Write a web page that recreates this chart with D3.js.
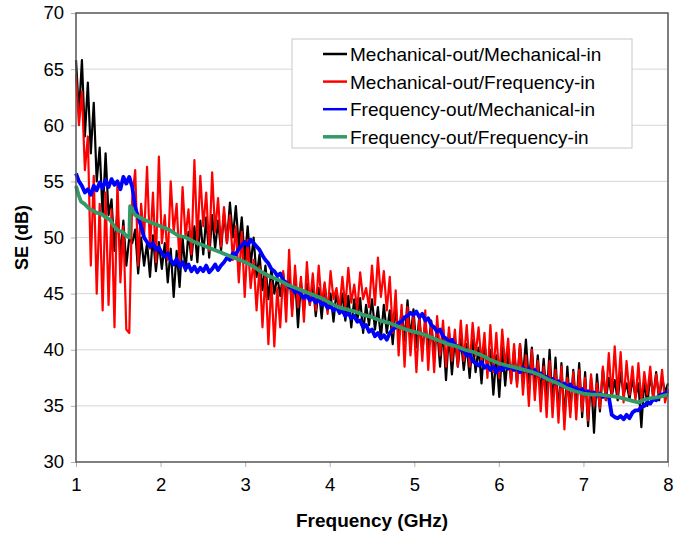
<!DOCTYPE html>
<html>
<head>
<meta charset="utf-8">
<script src="https://cdn.jsdelivr.net/npm/d3@7"></script>
<style>
  body { margin: 0; background: #fff; }
  svg { font-family: "Liberation Sans", Arial, sans-serif; }
</style>
</head>
<body>
<svg id="chart" width="688" height="533"></svg>
<script>
// frequency grid (GHz), one sample every 0.035 GHz from 1 to 8
const freqStart = 1, freqStep = 0.035;

const seriesNames = [
  "Mechanical-out/Mechanical-in",
  "Mechanical-out/Frequency-in",
  "Frequency-out/Mechanical-in",
  "Frequency-out/Frequency-in"
];
const seriesColors = ["#000000", "#ff0000", "#0000ff", "#339966"];

const xTicks = [1, 2, 3, 4, 5, 6, 7, 8];
const yTicks = [30, 35, 40, 45, 50, 55, 60, 65, 70];

// Mechanical-out/Mechanical-in (black)
const mechMech = [
  65.8, 61, 65.8, 59, 63.8, 57.5, 62, 55, 58, 52,
  57.5, 52, 53.4, 48.8, 52.5, 48.3, 51.5, 47.5, 50, 49.5,
  50.7, 46.8, 50, 47.5, 49.5, 46.5, 50.2, 47, 49.6, 47.2,
  49.5, 46, 49, 44.7, 48.8, 45.6, 50, 47, 50.5, 48,
  51, 47.8, 51.5, 48.5, 51.8, 48.2, 52, 49, 51.5, 48.8,
  52.2, 49.5, 53.1, 50, 52.8, 49.2, 51.8, 48, 51, 47.5,
  50, 46.5, 48.5, 45.3, 47.5, 44.5, 47.2, 45, 46.5, 44.8,
  46.8, 44.2, 47.1, 43.5, 46.5, 42, 46, 43.5, 45.9, 44,
  46, 43, 45.5, 42.8, 45.8, 43.5, 45, 42.5, 45.2, 43.2,
  45, 42.6, 44.8, 42, 44.5, 42.5, 44.6, 41.5, 44, 42.2,
  44.5, 41.8, 43.8, 41, 44, 41.5, 43.5, 40.5, 43.8, 41.2,
  43.5, 40.8, 44.4, 41, 43.6, 40.2, 43, 39.8, 42.5, 40,
  42.6, 39.5, 42, 38.5, 41.8, 37.3, 41.5, 37.8, 41, 38.5,
  41, 38.2, 40.5, 37.5, 40.9, 38, 40.2, 37, 40.5, 38.3,
  40, 36, 39.5, 35.8, 40.2, 36.8, 39.8, 37.2, 40, 37,
  40.5, 37.5, 40.9, 37, 40.2, 36.5, 39.5, 36, 39.2, 35.5,
  40, 35, 39.3, 34.2, 38.8, 33.7, 38.5, 34.5, 38.2, 35,
  38.8, 34, 38, 33.2, 37.5, 32.6, 37.8, 34.5, 38.3, 35.5,
  37.5, 35.8, 37.3, 35.5, 38, 36, 37, 35.6, 37.4, 35.8,
  37, 33.1, 37.5, 35, 37.8, 35.8, 38, 35.5, 37.5, 36.2,
  37
];

// Mechanical-out/Frequency-in (red)
const mechFreq = [
  64.5, 60, 63, 56, 59, 47.5, 55.5, 45, 53, 43.5,
  54, 44, 52.5, 42, 55, 46, 51, 41.8, 41.5, 53.5,
  56, 47.5, 53, 50, 56.3, 49, 54, 47.8, 57.2, 49.5,
  52, 48, 55, 50.5, 53, 47.6, 54.5, 50, 52.5, 48.5,
  56.9, 49.5, 55.5, 51, 54, 48.8, 55.8, 50.5, 53.5, 49.2,
  52.7, 49.5, 52, 48, 51, 46, 50.5, 44.7, 49.8, 45.5,
  48, 43.5, 47.4, 42, 46.8, 40.5, 46, 40.3, 45.5, 42,
  47, 42.5, 48.9, 43, 47.5, 43.8, 46.5, 42.5, 47.8, 44,
  46.8, 43.5, 47.5, 44, 46, 43.2, 47, 44.5, 45.5, 43.6,
  46.5, 43.8, 47.3, 44.2, 45.8, 43.5, 46.9, 44.5, 45.5, 43.8,
  47.5, 44, 48.2, 44.7, 47, 43.5, 46.5, 41.5, 45.3, 39.5,
  44, 38.5, 43.8, 39.5, 43, 38, 42.8, 39, 43.5, 38.2,
  42.5, 38, 43, 39.5, 42.6, 38.5, 42, 39, 41.8, 38.5,
  42.6, 39, 42.2, 38.5, 42.4, 39.5, 42, 38.8, 41.5, 37.5,
  42.2, 38, 41.5, 37.5, 41.8, 38.5, 41, 37, 40.5, 36.7,
  40.5, 36, 39.5, 35, 40, 35.5, 39, 34.5, 38.5, 34,
  39, 34, 38.2, 33.5, 38.5, 32.9, 37.5, 34, 38, 33.8,
  38.2, 34.5, 37.5, 33.7, 37.8, 35, 37, 34.8, 38.5, 35.5,
  39.7, 35.8, 40.3, 36, 39.8, 35.3, 39, 36, 38.5, 35.5,
  38.8, 35.3, 38, 36, 38.5, 35.5, 37.8, 35.8, 38.2, 35.3,
  36.5
];

// Frequency-out/Mechanical-in (blue)
const freqMech = [
  55.7, 55.0, 54.6, 54.0, 54.3, 53.8, 54.6, 54.2, 54.9, 54.4,
  55.1, 54.5, 55.2, 54.7, 55.0, 54.3, 55.4, 54.8, 55.4, 54.5,
  52.7, 51.8, 51.0, 50.0, 49.6, 49.2, 49.5, 48.9, 49.1, 48.6,
  48.3, 48.6, 48.0, 47.6, 48.1, 47.4, 47.8, 47.2, 47.6, 47.0,
  47.4, 46.9, 47.3, 47.0, 47.5, 46.9, 47.2, 47.6, 47.1, 47.5,
  47.8, 48.2, 48.0, 48.6, 48.5, 49.0, 49.3, 49.6, 49.3, 49.8,
  49.5, 49.2, 48.9, 48.4, 48.0, 47.7, 47.2, 47.0, 46.6, 46.8,
  46.2, 46.0, 45.6, 45.5, 45.1, 45.3, 44.9, 44.6, 44.9, 44.4,
  44.6, 44.2, 44.5, 44.0, 44.2, 43.7, 43.9, 43.5, 43.8, 43.3,
  43.5, 43.0, 43.3, 42.8, 43.0, 42.5, 42.6, 42.0, 42.2, 41.6,
  41.8, 41.2, 41.5, 41.0, 41.3, 40.9, 41.5, 41.8, 42.0, 42.4,
  42.5, 42.9, 43.0, 43.3, 43.1, 43.4, 42.9, 43.2, 42.6, 42.8,
  42.2, 42.0, 41.6, 41.8, 41.2, 41.0, 40.7, 40.9, 40.4, 40.3,
  40.0, 39.9, 39.5, 39.6, 39.0, 38.8, 38.6, 38.9, 38.4, 38.6,
  38.2, 38.5, 38.0, 38.4, 38.2, 38.6, 38.3, 38.5, 38.2, 38.4,
  38.0, 38.4, 38.1, 38.3, 37.9, 38.2, 37.8, 37.9, 37.5, 37.6,
  37.3, 37.4, 37.0, 37.2, 36.8, 37.0, 36.7, 36.9, 36.5, 36.6,
  36.3, 36.5, 36.1, 36.3, 36.0, 36.2, 35.9, 36.1, 35.8, 36.0,
  35.8, 34.2, 34.0, 33.9, 34.1, 33.8, 34.2, 33.9, 34.4, 34.6,
  34.6, 34.9, 35.0, 35.3, 35.2, 35.6, 35.5, 35.9, 36.0, 36.1,
  36.3
];

// Frequency-out/Frequency-in (green), read at its own frequencies
const freqFreqX = [1.0, 1.03, 1.06, 1.1, 1.15, 1.2, 1.25, 1.3, 1.35, 1.4, 1.45, 1.5, 1.55, 1.6, 1.63,
  1.64, 1.7, 1.8, 1.9, 2.0, 2.1, 2.2, 2.3, 2.4, 2.5, 2.6, 2.7, 2.8, 2.9, 3.0,
  3.1, 3.2, 3.3, 3.4, 3.5, 3.6, 3.7, 3.8, 3.9, 4.0, 4.1, 4.2, 4.3, 4.4, 4.5,
  4.6, 4.7, 4.8, 4.9, 5.0, 5.1, 5.2, 5.3, 5.4, 5.5, 5.6, 5.7, 5.8, 5.9, 6.0,
  6.1, 6.2, 6.3, 6.4, 6.5, 6.6, 6.7, 6.8, 6.9, 7.0, 7.1, 7.2, 7.3, 7.4, 7.5,
  7.6, 7.65, 7.7, 7.8, 7.9, 8.0];
const freqFreq = [54.6, 53.8, 53.2, 53.0, 52.6, 52.4, 52.2, 52.1, 51.8, 51.6, 51.0, 50.6, 50.5, 50.1, 50.0,
  52.8, 52.0, 51.6, 51.3, 51.0, 50.7, 50.2, 50.0, 49.6, 49.3, 49.0, 48.7, 48.4, 48.1, 47.8,
  47.4, 46.9, 46.5, 46.2, 45.8, 45.5, 45.2, 44.9, 44.6, 44.2, 43.8, 43.6, 43.4, 43.1, 42.9,
  42.6, 42.4, 42.1, 41.8, 41.6, 41.4, 41.1, 40.8, 40.5, 40.3, 40.0, 39.8, 39.5, 39.1, 38.8,
  38.6, 38.4, 38.2, 38.0, 37.7, 37.3, 37.0, 36.6, 36.3, 36.1, 36.0, 36.0, 35.9, 35.8, 35.6,
  35.4, 35.3, 35.5, 35.7, 35.8, 36.0];

const plotLeft = 76, plotRight = 668, plotTop = 13, plotBottom = 462;

const svg = d3.select("#chart");
const x = d3.scaleLinear().domain([1, 8]).range([plotLeft, plotRight]);
const y = d3.scaleLinear().domain([30, 70]).range([plotBottom, plotTop]);

// gridlines
svg.append("g")
  .selectAll("line")
  .data(yTicks.slice(1, -1))
  .join("line")
  .attr("x1", plotLeft).attr("x2", plotRight)
  .attr("y1", d => y(d)).attr("y2", d => y(d))
  .attr("stroke", "#d6d6d6").attr("stroke-width", 1);

// axes
const yAxis = svg.append("g")
  .attr("transform", `translate(${plotLeft},0)`)
  .call(d3.axisLeft(y).tickValues(yTicks).tickFormat(d3.format("d")).tickSize(5).tickPadding(7));
const xAxis = svg.append("g")
  .attr("transform", `translate(0,${plotBottom})`)
  .call(d3.axisBottom(x).tickValues(xTicks).tickFormat(d3.format("d")).tickSize(5).tickPadding(11));
[xAxis, yAxis].forEach(g => {
  g.select(".domain").remove();
  g.selectAll("line").attr("stroke", "#b0b0b0");
  g.selectAll("text").attr("font-size", 18.5).attr("fill", "#000")
    .attr("font-family", "Liberation Sans, Arial, sans-serif");
});

// data lines
const toPoints = (vals) => vals.map((v, i) => [freqStart + i * freqStep, v]);
const lineGen = d3.line().x(d => x(d[0])).y(d => y(d[1]));
const plotData = [
  { pts: toPoints(mechMech), color: seriesColors[0], w: 2.2 },
  { pts: toPoints(mechFreq), color: seriesColors[1], w: 2.2 },
  { pts: toPoints(freqMech), color: seriesColors[2], w: 3.8 },
  { pts: freqFreqX.map((f, i) => [f, freqFreq[i]]), color: seriesColors[3], w: 3.8 }
];
svg.append("g")
  .selectAll("path")
  .data(plotData)
  .join("path")
  .attr("d", d => lineGen(d.pts))
  .attr("fill", "none")
  .attr("stroke", d => d.color)
  .attr("stroke-width", d => d.w)
  .attr("stroke-linejoin", "round");

// plot frame
svg.append("rect")
  .attr("x", plotLeft).attr("y", plotTop)
  .attr("width", plotRight - plotLeft).attr("height", plotBottom - plotTop)
  .attr("fill", "none").attr("stroke", "#555").attr("stroke-width", 1.5);

// axis titles
svg.append("text")
  .attr("x", 372).attr("y", 527)
  .attr("text-anchor", "middle").attr("font-size", 19).attr("font-weight", "bold")
  .text("Frequency (GHz)");
svg.append("text")
  .attr("transform", `translate(28,${(plotTop + plotBottom) / 2}) rotate(-90)`)
  .attr("text-anchor", "middle").attr("font-size", 18).attr("font-weight", "bold")
  .text("SE (dB)");

// legend
const legend = svg.append("g");
legend.append("rect")
  .attr("x", 292).attr("y", 39).attr("width", 340).attr("height", 109)
  .attr("fill", "#fff").attr("stroke", "#c8c8c8");
const rows = legend.selectAll("g.row")
  .data(seriesNames)
  .join("g")
  .attr("class", "row")
  .attr("transform", (d, i) => `translate(0,${54 + i * 27.6})`);
rows.append("line")
  .attr("x1", 323).attr("x2", 347)
  .attr("stroke", (d, i) => seriesColors[i])
  .attr("stroke-width", (d, i) => i === 3 ? 3.5 : 2.5);
rows.append("text")
  .attr("x", 350).attr("y", 7)
  .attr("font-size", 19)
  .text(d => d);
</script>
</body>
</html>
